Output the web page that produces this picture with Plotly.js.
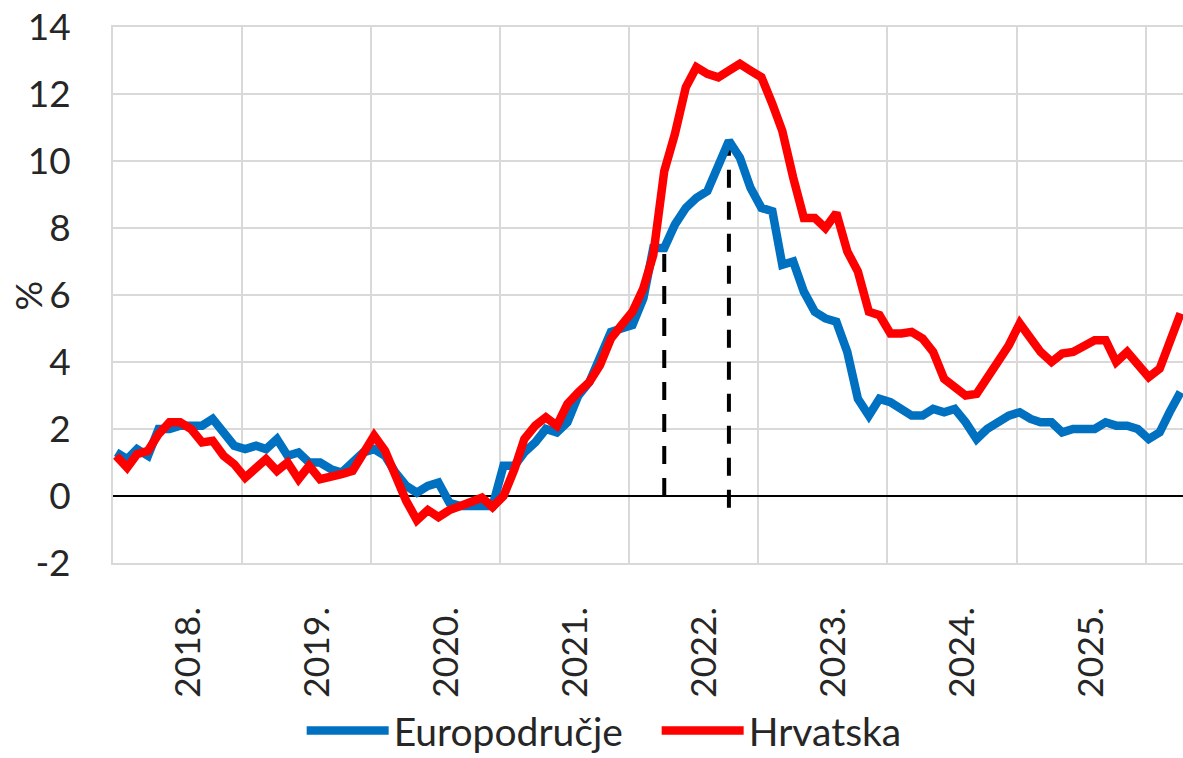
<!DOCTYPE html>
<html>
<head>
<meta charset="utf-8">
<script src="https://cdn.plot.ly/plotly-3.0.1.min.js"></script>
<style>html,body{margin:0;padding:0;background:#fff;}</style>
</head>
<body>
<div id="chart" style="width:1183px;height:758px;"></div>
<script>
// Monthly categories Jan 2018 – Apr 2026
const startYear = 2018, nMonths = 100;
const months = [];
for (let i = 0; i < nMonths; i++) {
  const y = startYear + Math.floor(i / 12), m = (i % 12) + 1;
  months.push(y + '-' + (m < 10 ? '0' + m : m));
}

// Europodručje (euro area), annual rate of change, %
const europodrucje = [
  1.3, 1.1, 1.4, 1.2, 2.0, 2.0, 2.1, 2.1, 2.1, 2.3, 1.9, 1.5,
  1.4, 1.5, 1.4, 1.7, 1.2, 1.3, 1.0, 1.0, 0.8, 0.7, 1.0, 1.3,
  1.4, 1.2, 0.7, 0.3, 0.1, 0.3, 0.4, -0.2, -0.3, -0.3, -0.3, -0.3,
  0.9, 0.9, 1.3, 1.6, 2.0, 1.9, 2.2, 3.0, 3.4, 4.1, 4.9, 5.0,
  5.1, 5.9, 7.4, 7.4, 8.1, 8.6, 8.9, 9.1, 9.9, 10.6, 10.1, 9.2,
  8.6, 8.5, 6.9, 7.0, 6.1, 5.5, 5.3, 5.2, 4.3, 2.9, 2.4, 2.9,
  2.8, 2.6, 2.4, 2.4, 2.6, 2.5, 2.6, 2.2, 1.7, 2.0, 2.2, 2.4,
  2.5, 2.3, 2.2, 2.2, 1.9, 2.0, 2.0, 2.0, 2.2, 2.1, 2.1, 2.0,
  1.7, 1.9, 2.5, 3.1
];

// Hrvatska (Croatia), annual rate of change, %
const hrvatska = [
  1.2, 0.85, 1.25, 1.35, 1.85, 2.2, 2.2, 2.0, 1.6, 1.65, 1.2, 0.95,
  0.55, 0.8, 1.1, 0.75, 1.0, 0.5, 0.9, 0.5, 0.55, 0.65, 0.75, 1.25,
  1.8, 1.35, 0.55, -0.15, -0.72, -0.42, -0.63, -0.42, -0.3, -0.2, -0.05, -0.33,
  0.0, 0.8, 1.7, 2.1, 2.35, 2.1, 2.75, 3.1, 3.4, 3.9, 4.7, 5.1,
  5.5, 6.2, 7.2, 9.7, 10.8, 12.2, 12.8, 12.6, 12.5, 12.7, 12.9, 12.7,
  12.5, 11.7, 10.9, 9.5, 8.3, 8.3, 8.0, 8.45, 7.3, 6.7, 5.5, 5.4,
  4.85, 4.85, 4.9, 4.7, 4.3, 3.5, 3.25, 3.0, 3.05, 3.5, 4.0, 4.5,
  5.15, 4.7, 4.3, 4.0, 4.25, 4.3, 4.5, 4.65, 4.65, 4.0, 4.3, 3.9,
  3.55, 3.8, 4.6, 5.45
];

// Marked months (dashed verticals) and their lower ends
const markedMonths = ['2022-04', '2022-10'];
const markedBase = [0, -0.35];

// Axis tick labels
const yTickVals = [-2, 0, 2, 4, 6, 8, 10, 12, 14];
const yTickText = ['-2', '0', '2', '4', '6', '8', '10', '12', '14'];
const yearLabels = ['2018.', '2019.', '2020.', '2021.', '2022.', '2023.', '2024.', '2025.'];
const yearTickPos = yearLabels.map(l => l.slice(0, 4) + '-07-24');

const FONT = 'Lato, "Open Sans", sans-serif';
const TXT = '#262626';
const GRID = '#D9D9D9';

const traces = [];
markedMonths.forEach((mo, k) => {
  const idx = months.indexOf(mo);
  traces.push({
    x: [mo, mo], y: [markedBase[k], europodrucje[idx]],
    mode: 'lines', type: 'scatter', showlegend: false, hoverinfo: 'skip',
    line: {color: '#000', width: 4, dash: '18px,14px'}
  });
});
traces.push({
  x: months, y: europodrucje, name: 'Europodručje', type: 'scatter', mode: 'lines',
  line: {color: '#0070C0', width: 8.5, shape: 'linear'}
});
traces.push({
  x: months, y: hrvatska, name: 'Hrvatska', type: 'scatter', mode: 'lines',
  line: {color: '#FF0000', width: 8.5, shape: 'linear'}
});

const layout = {
  width: 1183, height: 758,
  margin: {l: 113, r: 0, t: 27, b: 195, autoexpand: false},
  paper_bgcolor: '#fff', plot_bgcolor: '#fff',
  font: {family: FONT, color: TXT, size: 37},
  showlegend: true,
  legend: {
    orientation: 'h', xref: 'container', yref: 'container',
    x: 0.255, xanchor: 'left', y: 0.036, yanchor: 'middle',
    font: {family: FONT, size: 39, color: TXT}, itemwidth: 82,
    entrywidth: 258, traceorder: 'normal'
  },
  xaxis: {
    type: 'date',
    range: ['2017-12-23', '2026-04-08'],
    tickmode: 'array', tickvals: yearTickPos, ticktext: yearLabels,
    tickangle: -90, ticks: '', showgrid: false, zeroline: false,
    showline: true, linecolor: GRID, linewidth: 2, mirror: true,
    ticklabelstandoff: 28, automargin: false,
    tickfont: {family: FONT, size: 35.5, color: TXT},
    minor: {tick0: '2017-12-23', dtick: 'M12', showgrid: true, gridcolor: GRID, gridwidth: 2, ticks: ''}
  },
  yaxis: {
    range: [-2, 14], tickmode: 'array', tickvals: yTickVals, ticktext: yTickText,
    ticks: '', showgrid: true, gridcolor: GRID, gridwidth: 2,
    zeroline: true, zerolinecolor: '#000', zerolinewidth: 2,
    showline: true, linecolor: GRID, linewidth: 2,
    ticklabelstandoff: 33, automargin: false,
    tickfont: {family: FONT, size: 37, color: TXT}
  },
  annotations: [{
    text: '%', xref: 'paper', yref: 'paper', x: -0.08, y: 0.5,
    xanchor: 'center', yanchor: 'middle', textangle: -90, showarrow: false,
    font: {family: FONT, size: 37, color: TXT}
  }]
};

Plotly.newPlot('chart', traces, layout, {displayModeBar: false, staticPlot: true});
</script>
</body>
</html>
